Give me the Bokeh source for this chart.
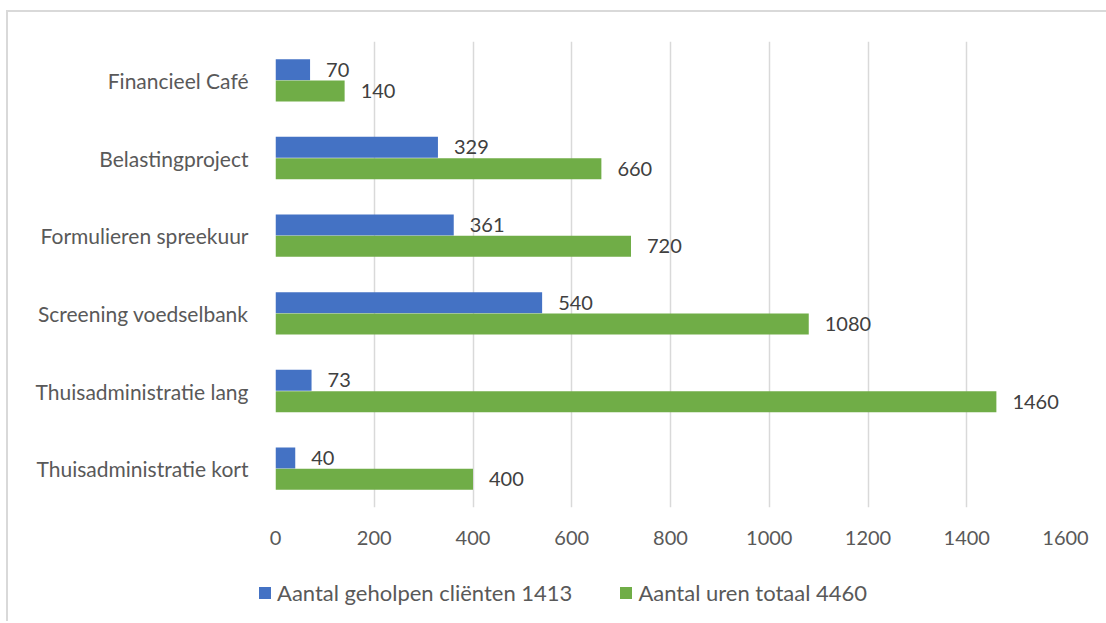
from bokeh.plotting import figure
from bokeh.layouts import column
from bokeh.models import ColumnDataSource, FactorRange, Range1d, FixedTicker, Legend, LegendItem
from bokeh.transform import dodge
from bokeh.core.properties import value
from bokeh.embed import file_html
from bokeh.resources import INLINE

categories = ["Thuisadministratie kort", "Thuisadministratie lang", "Screening voedselbank",
              "Formulieren spreekuur", "Belastingproject", "Financieel Café"]
clients = [40, 73, 540, 361, 329, 70]
hours = [400, 1460, 1080, 720, 660, 140]
series_names = ["Aantal geholpen cliënten 1413", "Aantal uren totaal 4460"]
x_ticks = [0, 200, 400, 600, 800, 1000, 1200, 1400, 1600]

BLUE = "#4472C4"
GREEN = "#70AD47"
FONT = "Lato"
AXIS_COL = "#595959"
LABEL_COL = "#404040"

src = ColumnDataSource(dict(
    cat=categories,
    clients=clients,
    hours=hours,
    clients_lbl=[str(v) for v in clients],
    hours_lbl=[str(v) for v in hours],
))

p = figure(y_range=FactorRange(*categories), x_range=Range1d(0, 1600),
           width=1098, height=545, output_backend="svg", toolbar_location=None,
           min_border_left=267, min_border_right=41, min_border_top=29, min_border_bottom=50)
p.frame_align = False
p.outline_line_color = None
p.background_fill_color = "white"
p.border_fill_color = "white"

OFF = 0.137
H = 0.27
r_blue = p.hbar(y=dodge("cat", OFF, range=p.y_range), left=0, right="clients", height=H,
                fill_color=BLUE, line_color=None, source=src)
r_green = p.hbar(y=dodge("cat", -OFF, range=p.y_range), left=0, right="hours", height=H,
                 fill_color=GREEN, line_color=None, source=src)

p.text(x="clients", y=dodge("cat", OFF, range=p.y_range), text="clients_lbl", source=src,
       x_offset=16, text_baseline="middle", text_align="left",
       text_font=value(FONT), text_font_size="20px", text_color=LABEL_COL)
p.text(x="hours", y=dodge("cat", -OFF, range=p.y_range), text="hours_lbl", source=src,
       x_offset=16, text_baseline="middle", text_align="left",
       text_font=value(FONT), text_font_size="20px", text_color=LABEL_COL)

p.xaxis.ticker = FixedTicker(ticks=x_ticks)
for ax in (p.xaxis[0], p.yaxis[0]):
    ax.axis_line_color = None
    ax.major_tick_line_color = None
    ax.minor_tick_line_color = None
    ax.major_tick_out = 0
    ax.major_tick_in = 0
    ax.minor_tick_out = 0
    ax.major_label_text_font = FONT
    ax.major_label_text_color = AXIS_COL
p.xaxis.major_label_text_font_size = "20px"
p.yaxis.major_label_text_font_size = "21px"
p.yaxis.major_label_standoff = 27
p.xaxis.major_label_standoff = 23

p.ygrid.grid_line_color = None
p.xgrid.grid_line_color = "#d9d9d9"
p.xgrid.grid_line_width = 1.5

# legend strip below the chart; its proxy bars are hidden renderers
lp = figure(width=1098, height=64, output_backend="svg", toolbar_location=None,
            x_range=Range1d(0, 1600), y_range=Range1d(-20, -10), x_axis_type=None, y_axis_type=None,
            min_border=0)
lp.frame_align = False
lp.outline_line_color = None
lp.border_fill_color = "white"
lp.background_fill_color = "white"
lp.xgrid.visible = False
lp.ygrid.visible = False
lb = lp.hbar(y="clients", left=0, right="clients", height=1, fill_color=BLUE, line_color=None,
             source=src, visible=False)
lg = lp.hbar(y="hours", left=0, right="hours", height=1, fill_color=GREEN, line_color=None,
             source=src, visible=False)

legend = Legend(items=[LegendItem(label=series_names[0], renderers=[lb]),
                       LegendItem(label=series_names[1], renderers=[lg])],
                orientation="horizontal", location=(249, 15),
                glyph_width=15, glyph_height=15, label_standoff=5, spacing=46,
                padding=5, margin=0, label_height=20,
                label_text_font=FONT, label_text_font_size="22px", label_text_color=AXIS_COL,
                inactive_fill_alpha=0,
                border_line_color=None, background_fill_alpha=0)
lp.add_layout(legend, "center")

layout = column(p, lp, spacing=0)
layout.styles = {"border-top": "2px solid #d9d9d9", "border-left": "2px solid #d9d9d9",
                 "margin-left": "6px", "margin-top": "10px"}

open("out.html", "w").write(file_html(layout, INLINE))
